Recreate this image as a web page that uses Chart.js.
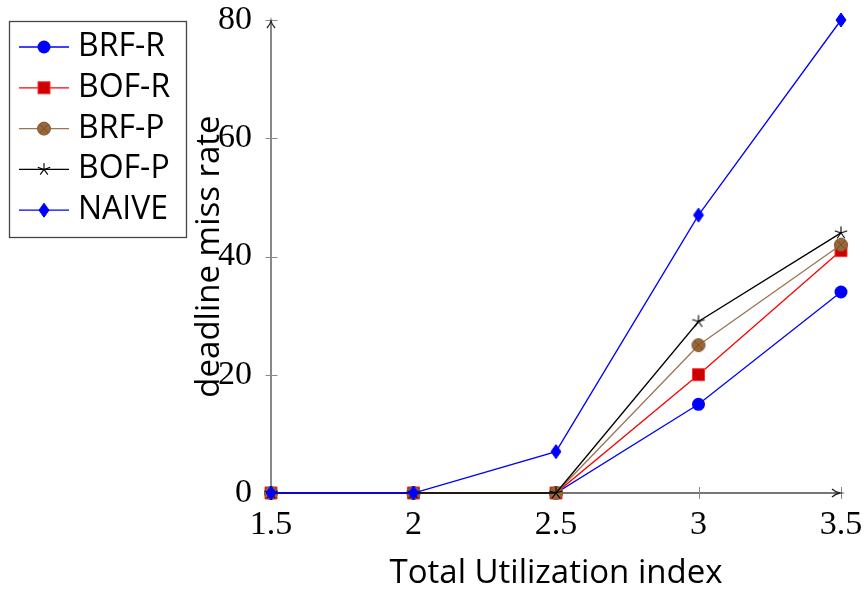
<!DOCTYPE html>
<html>
<head>
<meta charset="utf-8">
<script src="https://cdn.jsdelivr.net/npm/chart.js@4/dist/chart.umd.min.js"></script>
<style>
  html, body { margin: 0; padding: 0; background: #ffffff; }
  #wrap { position: relative; width: 866px; height: 590px; }
</style>
</head>
<body>
<div id="wrap"><canvas id="c" width="866" height="590"></canvas></div>
<script>
// ---- data ----
const utilization = [1.5, 2, 2.5, 3, 3.5];
const brfR  = [0, 0, 0, 15, 34];
const bofR  = [0, 0, 0, 20, 41];
const brfP  = [0, 0, 0, 25, 42];
const bofP  = [0, 0, 0, 29, 44];
const naive = [0, 0, 7, 47, 80];
const seriesNames = ['BRF-R', 'BOF-R', 'BRF-P', 'BOF-P', 'NAIVE'];
const xTickValues = [1.5, 2, 2.5, 3, 3.5];
const yTickValues = [0, 20, 40, 60, 80];
const xTitle = 'Total Utilization index';
const yTitle = 'deadline miss rate';

const SANS = '"Open Sans", "Noto Sans", sans-serif';
const SERIF = '"Liberation Serif", "DejaVu Serif", serif';
const AXIS_COLOR = '#4a4a4a';

// ---- marker drawing helpers ----
function drawBrownOtimes(ctx, x, y) {
  ctx.save();
  ctx.beginPath();
  ctx.arc(x, y, 6.5, 0, Math.PI * 2);
  ctx.fillStyle = '#9a6736';
  ctx.fill();
  ctx.lineWidth = 1;
  ctx.strokeStyle = '#7d5a3a';
  ctx.stroke();
  ctx.beginPath();
  const d = 4.4;
  ctx.moveTo(x - d, y - d); ctx.lineTo(x + d, y + d);
  ctx.moveTo(x - d, y + d); ctx.lineTo(x + d, y - d);
  ctx.strokeStyle = '#6e4c2c';
  ctx.lineWidth = 0.9;
  ctx.stroke();
  ctx.restore();
}
function drawStar(ctx, x, y) {
  ctx.save();
  ctx.beginPath();
  const r = 6.5;
  for (let k = 0; k < 5; k++) {
    const a = -Math.PI / 2 + k * 2 * Math.PI / 5;
    ctx.moveTo(x, y);
    ctx.lineTo(x + r * Math.cos(a), y + r * Math.sin(a));
  }
  ctx.strokeStyle = '#000000';
  ctx.lineWidth = 1.1;
  ctx.stroke();
  ctx.restore();
}
function drawDiamond(ctx, x, y) {
  ctx.save();
  ctx.beginPath();
  ctx.moveTo(x, y - 7); ctx.lineTo(x + 5, y); ctx.lineTo(x, y + 7); ctx.lineTo(x - 5, y); ctx.closePath();
  ctx.fillStyle = '#0000ff';
  ctx.fill();
  ctx.strokeStyle = '#0000ff';
  ctx.lineWidth = 1;
  ctx.stroke();
  ctx.restore();
}
function drawCircle(ctx, x, y) {
  ctx.save();
  ctx.beginPath();
  ctx.arc(x, y, 6.5, 0, Math.PI * 2);
  ctx.fillStyle = '#0000ff';
  ctx.fill();
  ctx.restore();
}
function drawSquare(ctx, x, y) {
  ctx.save();
  ctx.fillStyle = '#cc0000';
  ctx.fillRect(x - 6, y - 6, 12, 12);
  ctx.strokeStyle = '#ff3030';
  ctx.lineWidth = 1;
  ctx.strokeRect(x - 6, y - 6, 12, 12);
  ctx.restore();
}
function makeImage(fn) {
  const cv = document.createElement('canvas');
  cv.width = 18; cv.height = 18;
  fn(cv.getContext('2d'), 9, 9);
  return cv;
}
const imgOtimes = makeImage(drawBrownOtimes);
const imgStar = makeImage(drawStar);
const imgDiamond = makeImage(drawDiamond);

const lineColors = ['#0000ff', '#ff0000', '#9a7552', '#000000', '#0000ff'];
const markerFns = [drawCircle, drawSquare, drawBrownOtimes, drawStar, drawDiamond];

function toPoints(vals) { return utilization.map((x, i) => ({ x: x, y: vals[i] })); }

const datasets = [
  { label: seriesNames[0], data: toPoints(brfR), borderColor: lineColors[0], backgroundColor: '#0000ff',
    pointStyle: 'circle', pointRadius: 6.5, pointBorderWidth: 0, order: 4 },
  { label: seriesNames[1], data: toPoints(bofR), borderColor: lineColors[1], backgroundColor: '#cc0000',
    pointStyle: 'rect', pointRadius: 8.5, pointBorderColor: '#ff3030', pointBorderWidth: 1, order: 3 },
  { label: seriesNames[2], data: toPoints(brfP), borderColor: lineColors[2], backgroundColor: '#9a6736',
    pointStyle: imgOtimes, pointRadius: 7, order: 2 },
  { label: seriesNames[3], data: toPoints(bofP), borderColor: lineColors[3], backgroundColor: '#000',
    pointStyle: imgStar, pointRadius: 7, order: 1 },
  { label: seriesNames[4], data: toPoints(naive), borderColor: lineColors[4], backgroundColor: '#0000ff',
    pointStyle: imgDiamond, pointRadius: 7, order: 0 }
];
datasets.forEach(d => { d.borderWidth = 1.3; d.tension = 0; d.fill = false; d.clip = false; });

const axesPlugin = {
  id: 'pgfAxes',
  beforeDatasetsDraw(chart) {
    const ctx = chart.ctx;
    const xs = chart.scales.x, ys = chart.scales.y;
    const x0 = xs.getPixelForValue(xTickValues[0]);
    const x1 = xs.getPixelForValue(xTickValues[xTickValues.length - 1]);
    const y0 = ys.getPixelForValue(yTickValues[0]);
    const y1 = ys.getPixelForValue(yTickValues[yTickValues.length - 1]);
    ctx.save();
    ctx.strokeStyle = AXIS_COLOR;
    ctx.lineWidth = 1.3;
    ctx.beginPath();
    ctx.moveTo(x0, y0); ctx.lineTo(x0, y1 + 1);
    ctx.moveTo(x0, y0); ctx.lineTo(x1 - 1, y0);
    ctx.stroke();
    ctx.lineWidth = 1;
    ctx.beginPath();
    yTickValues.forEach(v => { const p = Math.round(ys.getPixelForValue(v)) + 0.5; ctx.moveTo(x0 - 5.5, p); ctx.lineTo(x0 + 6.5, p); });
    xTickValues.forEach(v => { const p = Math.round(xs.getPixelForValue(v)) + 0.5; ctx.moveTo(p, y0 - 6); ctx.lineTo(p, y0 + 6); });
    ctx.strokeStyle = '#8a8a8a';
    ctx.stroke();
    ctx.strokeStyle = '#222';
    ctx.lineWidth = 1.3;
    ctx.beginPath();
    ctx.moveTo(x0 - 4, y1 + 8); ctx.quadraticCurveTo(x0 - 0.5, y1 + 4, x0, y1 + 1);
    ctx.quadraticCurveTo(x0 + 0.5, y1 + 4, x0 + 4, y1 + 8);
    ctx.moveTo(x1 - 9, y0 - 4); ctx.quadraticCurveTo(x1 - 5, y0 - 0.5, x1 - 1, y0);
    ctx.quadraticCurveTo(x1 - 5, y0 + 0.5, x1 - 9, y0 + 4);
    ctx.stroke();
    ctx.restore();
  },
  afterDraw(chart) {
    const ctx = chart.ctx;
    const ca = chart.chartArea;
    ctx.save();
    ctx.fillStyle = '#000';
    ctx.font = '33px ' + SANS;
    ctx.textAlign = 'center';
    ctx.textBaseline = 'alphabetic';
    ctx.fillText(xTitle, (ca.left + ca.right) / 2, 583);
    ctx.translate(219, (ca.top + ca.bottom) / 2);
    ctx.rotate(-Math.PI / 2);
    ctx.fillText(yTitle, 0, 0);
    ctx.restore();

    ctx.save();
    ctx.strokeStyle = '#444';
    ctx.lineWidth = 1.3;
    ctx.fillStyle = '#fff';
    ctx.fillRect(9.5, 21.5, 177, 216);
    ctx.strokeRect(9.5, 21.5, 177, 216);
    ctx.font = '32px ' + SANS;
    ctx.textAlign = 'left';
    ctx.textBaseline = 'alphabetic';
    seriesNames.forEach((name, i) => {
      const y = 47 + i * 40.8;
      ctx.beginPath();
      ctx.moveTo(19, y); ctx.lineTo(69, y);
      ctx.strokeStyle = lineColors[i];
      ctx.lineWidth = 1.3;
      ctx.stroke();
      markerFns[i](ctx, 44, y);
      ctx.fillStyle = '#000';
      ctx.fillText(name, 78, y + 9);
    });
    ctx.restore();
  }
};

new Chart(document.getElementById('c'), {
  type: 'line',
  data: { datasets: datasets },
  options: {
    responsive: false,
    animation: false,
    events: [],
    layout: { padding: { top: 20, right: 25, left: 0, bottom: 0 } },
    plugins: { legend: { display: false }, tooltip: { enabled: false }, title: { display: false } },
    scales: {
      x: {
        type: 'linear', min: 1.5, max: 3.5,
        afterBuildTicks: s => { s.ticks = xTickValues.map(v => ({ value: v })); },
        afterFit: s => { s.height = 97; s.paddingLeft = 0; s.paddingRight = 0; },
        grid: { display: false, drawTicks: false },
        border: { display: false },
        ticks: { font: { family: SERIF, size: 34 }, color: '#000', padding: 12, maxRotation: 0, autoSkip: false,
                 callback: v => String(v) }
      },
      y: {
        type: 'linear', min: 0, max: 80,
        afterBuildTicks: s => { s.ticks = yTickValues.map(v => ({ value: v })); },
        afterFit: s => { s.width = 271; s.paddingTop = 0; s.paddingBottom = 0; },
        grid: { display: false, drawTicks: false },
        border: { display: false },
        ticks: { font: { family: SERIF, size: 34 }, color: '#000', padding: 19, autoSkip: false,
                 callback: v => String(v) }
      }
    }
  },
  plugins: [axesPlugin]
});
</script>
</body>
</html>
